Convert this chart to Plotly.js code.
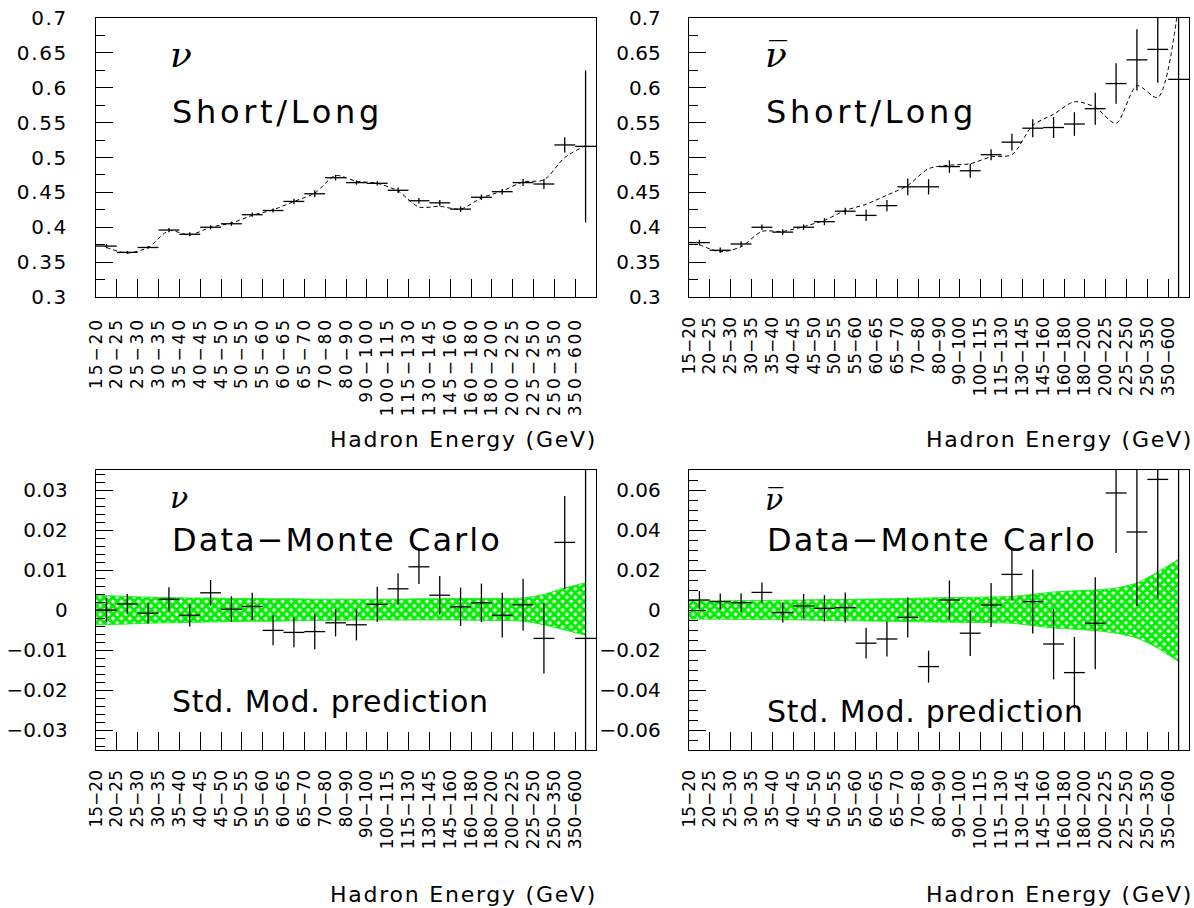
<!DOCTYPE html>
<html>
<head>
<meta charset="utf-8">
<script src="https://cdn.plot.ly/plotly-3.0.1.min.js"></script>
<style>
  body { margin: 0; background: #ffffff; }
  #chart { width: 1194px; height: 908px; }
  .xtick text { letter-spacing: 0.17em; }
  .ytick text { letter-spacing: 0.08em; }
</style>
</head>
<body>
<div id="chart"></div>
<script>
// ---------------- data ----------------
const binLabels = ['15-20','20-25','25-30','30-35','35-40','40-45','45-50','50-55','55-60','60-65','65-70',
  '70-80','80-90','90-100','100-115','115-130','130-145','145-160','160-180','180-200','200-225',
  '225-250','250-350','350-600'];

// neutrino Short/Long ratio (data, error, Monte Carlo)
const nuRatio    = [0.373,0.364,0.371,0.396,0.390,0.400,0.405,0.418,0.424,0.437,0.448,0.471,0.464,0.463,0.453,0.438,0.435,0.426,0.443,0.451,0.464,0.462,0.518,0.516];
const nuRatioErr = [0.003,0.002,0.002,0.003,0.003,0.003,0.003,0.003,0.003,0.004,0.005,0.004,0.003,0.003,0.004,0.004,0.004,0.004,0.004,0.004,0.005,0.007,0.011,0.109];
const nuRatioMC  = [0.371,0.363,0.371,0.395,0.389,0.400,0.406,0.417,0.425,0.437,0.449,0.474,0.466,0.463,0.452,0.429,0.430,0.426,0.442,0.452,0.465,0.468,0.500,0.517];

// antineutrino Short/Long ratio
const nubRatio    = [0.378,0.367,0.376,0.400,0.393,0.400,0.408,0.423,0.417,0.431,0.458,0.458,0.487,0.481,0.504,0.522,0.542,0.543,0.548,0.570,0.606,0.640,0.655,0.612];
const nubRatioErr = [0.004,0.004,0.004,0.004,0.004,0.004,0.005,0.005,0.008,0.008,0.012,0.011,0.009,0.010,0.008,0.012,0.013,0.015,0.017,0.023,0.029,0.044,0.048,0.350];
const nubRatioMC  = [0.375,0.365,0.372,0.394,0.394,0.401,0.410,0.424,0.433,0.446,0.460,0.484,0.489,0.491,0.501,0.504,0.546,0.562,0.580,0.572,0.549,0.603,0.586,0.720];

// neutrino Data - Monte Carlo
const nuDiff    = [0.0000,0.0015,-0.0008,0.0027,-0.0013,0.0043,0.0002,0.0009,-0.0051,-0.0056,-0.0054,-0.0032,-0.0037,0.0014,0.0053,0.0108,0.0037,0.0008,0.0018,-0.0013,0.0013,-0.0071,0.0169,-0.0071];
const nuDiffErr = [0.0030,0.0025,0.0026,0.0030,0.0028,0.0032,0.0032,0.0034,0.0037,0.0037,0.0044,0.0034,0.0039,0.0044,0.0039,0.0043,0.0048,0.0048,0.0048,0.0056,0.0065,0.0088,0.0116,0.0500];
// Standard Model prediction band (upper / lower edge)
const nuBandHi = [0.0037,0.0034,0.0032,0.0031,0.0030,0.0030,0.0029,0.0029,0.0028,0.0028,0.0027,0.0027,0.0027,0.0027,0.0027,0.0028,0.0028,0.0029,0.0029,0.0029,0.0030,0.0039,0.0055,0.0068];
const nuBandLo = [-0.0037,-0.0035,-0.0033,-0.0032,-0.0031,-0.0030,-0.0029,-0.0028,-0.0028,-0.0027,-0.0026,-0.0026,-0.0025,-0.0025,-0.0025,-0.0025,-0.0025,-0.0025,-0.0026,-0.0026,-0.0028,-0.0037,-0.0050,-0.0063];

// antineutrino Data - Monte Carlo
const nubDiff    = [0.0050,0.0042,0.0037,0.0088,-0.0013,0.0020,0.0008,0.0012,-0.0166,-0.0145,-0.0037,-0.0283,0.0050,-0.0116,0.0025,0.0178,0.0042,-0.0170,-0.0313,-0.0066,0.0585,0.0390,0.0653,-0.0900];
const nubDiffErr = [0.0045,0.0040,0.0047,0.0050,0.0050,0.0060,0.0066,0.0075,0.0077,0.0087,0.0100,0.0080,0.0098,0.0114,0.0110,0.0130,0.0160,0.0177,0.0178,0.0230,0.0300,0.0370,0.0595,0.3000];
const nubBandHi = [0.0045,0.0046,0.0047,0.0048,0.0049,0.0050,0.0052,0.0053,0.0055,0.0056,0.0058,0.0060,0.0062,0.0063,0.0065,0.0068,0.0078,0.0090,0.0096,0.0100,0.0110,0.0135,0.0190,0.0254];
const nubBandLo = [-0.0045,-0.0046,-0.0047,-0.0048,-0.0049,-0.0050,-0.0052,-0.0053,-0.0055,-0.0056,-0.0058,-0.0060,-0.0061,-0.0062,-0.0063,-0.0066,-0.0078,-0.0090,-0.0096,-0.0103,-0.0116,-0.0140,-0.0190,-0.0258];

// ---------------- helpers ----------------
const W = 1194, H = 908;
const FONT = 'DejaVu Sans, Arial, sans-serif';
const centers = binLabels.map((_, i) => i + 0.5);
const edges = binLabels.map((_, i) => i);
const bandX = centers.map((c, i) => (i === 0 ? 0 : c));
const shownLabels = binLabels.map(s => s.replace('-', '\u2212'));

function points(y, err, xa, ya) {
  return {
    x: centers, y: y, xaxis: xa, yaxis: ya, type: 'scatter', mode: 'markers',
    marker: { size: 1, color: 'rgba(0,0,0,0)' },
    error_x: { type: 'constant', value: 0.5, width: 0, thickness: 1.3, color: '#000' },
    error_y: { type: 'data', array: err, visible: true, width: 0, thickness: 1.3, color: '#000' },
    hoverinfo: 'skip', showlegend: false
  };
}
function mcLine(y, xa, ya) {
  return {
    x: centers, y: y, xaxis: xa, yaxis: ya, type: 'scatter', mode: 'lines',
    line: { color: '#000', width: 1, dash: '4px,3px', shape: 'spline', smoothing: 0.8 },
    hoverinfo: 'skip', showlegend: false
  };
}
function band(hi, lo, xa, ya) {
  return [
    { x: bandX, y: hi, xaxis: xa, yaxis: ya, type: 'scatter', mode: 'lines',
      line: { color: '#22ee22', width: 1, shape: 'spline', smoothing: 0.6 }, hoverinfo: 'skip', showlegend: false },
    { x: bandX, y: lo, xaxis: xa, yaxis: ya, type: 'scatter', mode: 'lines', fill: 'tonexty',
      fillcolor: 'rgba(0,0,0,0)',
      fillpattern: { shape: 'x', size: 6, solidity: 0.75, fgcolor: '#00ee00', bgcolor: '#ffffff' },
      line: { color: '#22ee22', width: 1, shape: 'spline', smoothing: 0.6 }, hoverinfo: 'skip', showlegend: false }
  ];
}

const traces = [
  mcLine(nuRatioMC, 'x', 'y'),
  points(nuRatio, nuRatioErr, 'x', 'y'),
  mcLine(nubRatioMC, 'x2', 'y2'),
  points(nubRatio, nubRatioErr, 'x2', 'y2'),
  ...band(nuBandHi, nuBandLo, 'x3', 'y3'),
  points(nuDiff, nuDiffErr, 'x3', 'y3'),
  ...band(nubBandHi, nubBandLo, 'x4', 'y4'),
  points(nubDiff, nubDiffErr, 'x4', 'y4')
];

function xAxis(domain, anchor) {
  return {
    domain: domain, anchor: anchor, range: [0, 24],
    tickmode: 'array', tickvals: edges, ticktext: shownLabels, tickangle: -90,
    ticks: 'inside', ticklen: 18, tickwidth: 1, tickcolor: '#000',
    ticklabelstandoff: 12,
    tickfont: { family: FONT, size: 17, color: '#000' },
    showline: true, mirror: true, linecolor: '#000', linewidth: 1.2,
    showgrid: false, zeroline: false, fixedrange: true
  };
}
function yAxis(domain, anchor, range, dtick, minor) {
  return {
    domain: domain, anchor: anchor, range: range, tick0: 0, dtick: dtick,
    ticks: 'inside', ticklen: 17, tickwidth: 1, tickcolor: '#000',
    minor: { ticks: 'inside', ticklen: 9, tickwidth: 1, tickcolor: '#000', dtick: minor, tick0: 0, showgrid: false },
    ticklabelstandoff: 23,
    tickfont: { family: FONT, size: 20, color: '#000' },
    showline: true, mirror: true, linecolor: '#000', linewidth: 1.2,
    showgrid: false, zeroline: false, fixedrange: true
  };
}

const xdL = [96 / W, 596 / W], xdR = [689 / W, 1189 / W];
const ydT = [1 - 297 / H, 1 - 18 / H], ydB = [1 - 750 / H, 1 - 470 / H];

function note(text, x, y, size, spacing, xanchor, family) {
  const t = spacing ? '<span style="letter-spacing:' + spacing + 'em">' + text + '</span>' : text;
  return {
    text: t, xref: 'paper', yref: 'paper', x: x / W, y: 1 - y / H,
    xanchor: xanchor || 'left', yanchor: 'middle', showarrow: false,
    font: { family: family || FONT, size: size, color: '#000' }
  };
}
const NU = 'DejaVu Serif, serif';
const annotations = [
  note('<i>\u03bd</i>', 168, 67 - 0.35 * 36, 36, 0, 'left', NU),
  note('Short/Long', 170, 123 - 0.35 * 32, 32, 0.115),
  note('<i>\u03bd\u0305</i>', 763, 67 - 0.35 * 36, 36, 0, 'left', NU),
  note('Short/Long', 764, 123 - 0.35 * 32, 32, 0.115),
  note('<i>\u03bd</i>', 168, 508 - 0.35 * 30, 30, 0, 'left', NU),
  note('Data\u2212Monte Carlo', 170, 551 - 0.35 * 32, 32, 0.065),
  note('Std. Mod. prediction', 170, 712 - 0.35 * 30, 30, 0.025),
  note('<i>\u03bd\u0305</i>', 763, 510 - 0.35 * 30, 30, 0, 'left', NU),
  note('Data\u2212Monte Carlo', 765, 551 - 0.35 * 32, 32, 0.065),
  note('Std. Mod. prediction', 765, 722 - 0.35 * 30, 30, 0.025),
  note('Hadron Energy (GeV)', 599, 447 - 0.35 * 22, 22, 0.08, 'right'),
  note('Hadron Energy (GeV)', 1195, 447 - 0.35 * 22, 22, 0.08, 'right'),
  note('Hadron Energy (GeV)', 599, 902 - 0.35 * 22, 22, 0.08, 'right'),
  note('Hadron Energy (GeV)', 1195, 902 - 0.35 * 22, 22, 0.08, 'right')
];

const layout = {
  width: W, height: H,
  margin: { l: 0, r: 0, t: 0, b: 0 },
  paper_bgcolor: '#ffffff', plot_bgcolor: '#ffffff',
  showlegend: false,
  xaxis: xAxis(xdL, 'y'),
  xaxis2: xAxis(xdR, 'y2'),
  xaxis3: xAxis(xdL, 'y3'),
  xaxis4: xAxis(xdR, 'y4'),
  yaxis: yAxis(ydT, 'x', [0.3, 0.7], 0.05, 0.025),
  yaxis2: yAxis(ydT, 'x2', [0.3, 0.7], 0.05, 0.025),
  yaxis3: yAxis(ydB, 'x3', [-0.035, 0.035], 0.01, 0.002),
  yaxis4: yAxis(ydB, 'x4', [-0.07, 0.07], 0.02, 0.005),
  annotations: annotations
};

Plotly.newPlot('chart', traces, layout, { displayModeBar: false, staticPlot: true });
</script>
</body>
</html>
